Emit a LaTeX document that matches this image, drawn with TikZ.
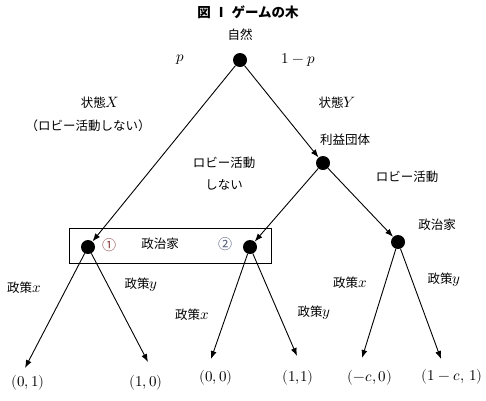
\documentclass[tikz,border=0pt]{standalone}
\usepackage{fontspec}
\usepackage{unicode-math}
\setmathfont{Latin Modern Math}
\newfontfamily\jp{Noto Sans CJK JP}
\usetikzlibrary{arrows.meta}
\definecolor{circA}{RGB}{140,60,60}
\definecolor{circB}{RGB}{80,90,120}
\newcommand{\mv}[1]{{\fontsize{15}{17}\selectfont$#1$}}
\tikzset{
  dot/.style={circle,fill=black,inner sep=0pt,minimum size=14pt},
  edge/.style={line width=0.9pt,-{Latex[length=8pt,width=6pt]}},
  lab/.style={font=\jp\fontsize{12.5}{14}\selectfont,inner sep=0pt},
  pay/.style={font=\fontsize{15}{17}\selectfont,inner sep=0pt}
}
\begin{document}
\begin{tikzpicture}[x=1pt,y=-1pt]
\useasboundingbox (0,0) rectangle (486,400);
% title
\node[lab,font=\jp\bfseries\fontsize{13.5}{15}\selectfont] (title) at (248,12) {図\hspace{8pt}I\hspace{8pt}ゲームの木};
% nodes
\node[dot] (N) at (240,60) {};
\node[dot] (G) at (323,163) {};
\node[dot] (P1) at (88,247) {};
\node[dot] (P2) at (250,247) {};
\node[dot] (P3) at (398,242) {};
% box
\node[draw,line width=0.9pt,minimum width=202pt,minimum height=35pt,inner sep=0pt] (box) at (170,245.5) {};
% labels
\node[lab] (nat) at (240,35) {自然};
\node[pay] (p) at (180,60) {$p$};
\node[pay] (q) at (298,60) {$1-p$};
\node[lab] (sx) at (100,103) {状態\mv{X}};
\node[lab] (sx2) at (88,126) {（ロビー活動しない）};
\node[lab] (sy) at (337,103) {状態\mv{Y}};
\node[lab] (ig) at (345,140) {利益団体};
\node[lab,align=center] (nl) at (224,174) {ロビー活動\\[8pt]しない};
\node[lab] (lb) at (407,177) {ロビー活動};
\node[lab] (pol3) at (437,225) {政治家};
\node[lab,font=\jp\fontsize{14}{16}\selectfont,text=circA] (c1) at (109,245) {①};
\node[lab] (pol) at (160,244) {政治家};
\node[lab,font=\jp\fontsize{14}{16}\selectfont,text=circB] (c2) at (225,244) {②};
% edges
\coordinate (L1) at (25,368);
\coordinate (L2) at (148,362);
\coordinate (L3) at (211,359);
\coordinate (L4) at (297,356);
\coordinate (L5) at (362,358);
\coordinate (L6) at (441,359);
\draw[edge] (N) -- (P1);
\draw[edge] (N) -- (G);
\draw[edge] (G) -- (P2);
\draw[edge] (G) -- (P3);
\draw[edge] (P1) -- (L1);
\draw[edge] (P1) -- (L2);
\draw[edge] (P2) -- (L3);
\draw[edge] (P2) -- (L4);
\draw[edge] (P3) -- (L5);
\draw[edge] (P3) -- (L6);
% policy labels
\node[lab] (x1) at (24,288) {政策\mv{x}};
\node[lab] (y1) at (141,285) {政策\mv{y}};
\node[lab] (x2) at (192,315) {政策\mv{x}};
\node[lab] (y2) at (314,313) {政策\mv{y}};
\node[lab] (x3) at (350,283) {政策\mv{x}};
\node[lab] (y3) at (444,280) {政策\mv{y}};
% payoffs
\node[pay] (o1) at (28,383) {$(0,1)$};
\node[pay] (o2) at (146,383) {$(1,0)$};
\node[pay] (o3) at (216,378) {$(0,0)$};
\node[pay] (o4) at (298,378) {$(1{,}1)$};
\node[pay] (o5) at (370,378) {$(-c,0)$};
\node[pay] (o6) at (452,377) {$(1-c,\,1)$};
\end{tikzpicture}
\end{document}
